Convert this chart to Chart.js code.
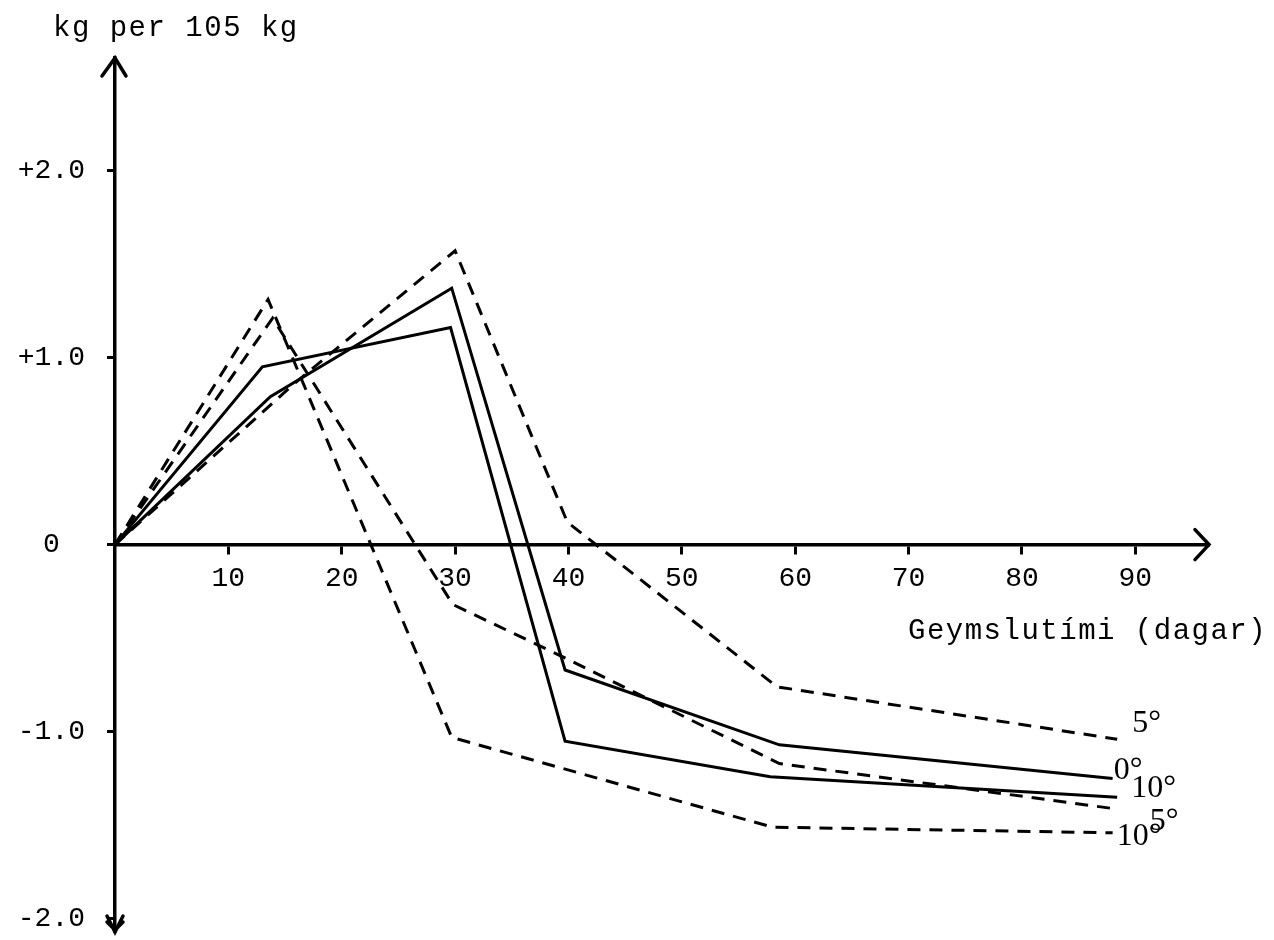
<!DOCTYPE html>
<html>
<head>
<meta charset="utf-8">
<script src="https://cdn.jsdelivr.net/npm/chart.js@4.4.1/dist/chart.umd.min.js"></script>
<style>
    html, body { margin: 0; padding: 0; background: #fff; }
    #wrap { width: 1274px; height: 940px; }
</style>
</head>
<body>
<div id="wrap"><canvas id="storageChart"></canvas></div>
<script>
// storage time (days) and change in kg per 105 kg
const days5Top = [0, 16.0, 30.0, 39.9, 58.4, 88.4];
const kg5Top = [0, 0.87, 1.57, 0.12, -0.76, -1.04];

const days0 = [0, 13.7, 29.7, 39.7, 58.6, 88.0];
const kg0 = [0, 0.79, 1.37, -0.67, -1.07, -1.25];

const days10 = [0, 13.0, 29.6, 39.7, 57.8, 88.4];
const kg10 = [0, 0.95, 1.16, -1.05, -1.24, -1.35];

const days5Low = [0, 13.9, 29.8, 39.5, 58.6, 88.0];
const kg5Low = [0, 1.21, -0.32, -0.60, -1.17, -1.41];

const days10Low = [0, 13.5, 29.7, 58.0, 88.0];
const kg10Low = [0, 1.31, -1.03, -1.51, -1.54];

const endLabels = ["5°", "0°", "10°", "5°", "10°"];
const xTicks = [10, 20, 30, 40, 50, 60, 70, 80, 90];
const yTicks = [-2, -1, 0, 1, 2];
const yTitle = "kg per 105 kg";
const xTitle = "Geymslutími (dagar)";

// label nudges (px) from each line's last point
const labelOffsets = [[15, -7], [1, 0], [14, 0], [37, 22], [4, 12]];

const MONO = "'Liberation Mono', 'DejaVu Sans Mono', monospace";
const SERIF = "'Liberation Serif', 'DejaVu Serif', serif";

function toPoints(xs, ys) {
    return xs.map((x, i) => ({ x: x, y: ys[i] }));
}

function lineSet(label, xs, ys, dashed) {
    return {
        label: label,
        data: toPoints(xs, ys),
        borderColor: '#000',
        borderWidth: 3,
        borderDash: dashed ? [13, 9] : [],
        borderJoinStyle: 'miter',
        pointRadius: 0,
        fill: false,
        tension: 0
    };
}

// axis arrows, titles and the temperature labels at the line ends
const decorations = {
    id: 'decorations',
    afterDraw(chart) {
        const ctx = chart.ctx;
        const xs = chart.scales.x;
        const ys = chart.scales.y;
        const x0 = xs.getPixelForValue(0);
        const y0 = ys.getPixelForValue(0);
        const area = chart.chartArea;

        ctx.save();
        ctx.strokeStyle = '#000';
        ctx.lineWidth = 3.5;
        ctx.lineCap = 'round';
        ctx.lineJoin = 'miter';

        // x arrow
        ctx.beginPath();
        ctx.moveTo(area.right - 14, y0 - 15);
        ctx.lineTo(area.right, y0);
        ctx.lineTo(area.right - 14, y0 + 15);
        ctx.stroke();

        // y arrow top
        ctx.beginPath();
        ctx.moveTo(x0 - 13, area.top + 18);
        ctx.lineTo(x0, area.top);
        ctx.lineTo(x0 + 11, area.top + 18);
        ctx.stroke();

        // y arrow bottom
        ctx.beginPath();
        ctx.moveTo(x0 - 8, area.bottom - 16);
        ctx.lineTo(x0, area.bottom);
        ctx.lineTo(x0 + 8, area.bottom - 16);
        ctx.moveTo(x0 - 8, area.bottom - 10);
        ctx.lineTo(x0, area.bottom - 2);
        ctx.lineTo(x0 + 8, area.bottom - 10);
        ctx.stroke();

        // titles
        ctx.fillStyle = '#000';
        ctx.font = "29px " + MONO;
        ctx.letterSpacing = '1.5px';
        ctx.textBaseline = 'alphabetic';
        ctx.textAlign = 'left';
        ctx.fillText(yTitle, 53, 36);
        ctx.fillText(xTitle, 908, 639);
        ctx.letterSpacing = '0px';

        // end labels
        ctx.font = "32px " + SERIF;
        chart.data.datasets.forEach((ds, i) => {
            const last = ds.data[ds.data.length - 1];
            const px = xs.getPixelForValue(last.x) + labelOffsets[i][0];
            const py = ys.getPixelForValue(last.y) + labelOffsets[i][1];
            ctx.fillText(endLabels[i], px, py);
        });
        ctx.restore();
    }
};

document.addEventListener("DOMContentLoaded", () => {
    const ctx = document.getElementById("storageChart").getContext("2d");
    new Chart(ctx, {
        type: 'line',
        data: {
            datasets: [
                lineSet(endLabels[0], days5Top, kg5Top, true),
                lineSet(endLabels[1], days0, kg0, false),
                lineSet(endLabels[2], days10, kg10, false),
                lineSet(endLabels[3], days5Low, kg5Low, true),
                lineSet(endLabels[4], days10Low, kg10Low, true)
            ]
        },
        options: {
            responsive: true,
            maintainAspectRatio: false,
            devicePixelRatio: 1,
            animation: false,
            layout: { padding: { top: 58, bottom: 8, left: 0, right: 65 } },
            plugins: {
                legend: { display: false },
                tooltip: { enabled: false }
            },
            scales: {
                x: {
                    type: 'linear',
                    min: 0,
                    max: 96.5,
                    position: { y: 0 },
                    afterFit: scale => {
                        scale.height = 0;
                        scale.paddingLeft = 0;
                        scale.paddingRight = 0;
                    },
                    afterBuildTicks: scale => { scale.ticks = xTicks.map(v => ({ value: v })); },
                    border: { display: true, color: '#000', width: 3.5 },
                    grid: { drawOnChartArea: false, drawTicks: true, tickLength: 8, tickWidth: 3, color: '#000' },
                    ticks: {
                        color: '#000',
                        padding: 9,
                        maxRotation: 0,
                        autoSkip: false,
                        font: { family: MONO, size: 28 },
                        callback: v => String(v)
                    }
                },
                y: {
                    type: 'linear',
                    min: -2.07,
                    max: 2.6,
                    position: 'left',
                    afterFit: scale => {
                        scale.width = 115;
                        scale.paddingTop = 0;
                        scale.paddingBottom = 0;
                    },
                    afterBuildTicks: scale => { scale.ticks = yTicks.map(v => ({ value: v })); },
                    border: { display: true, color: '#000', width: 3.5 },
                    grid: { drawOnChartArea: false, drawTicks: true, tickLength: 8, tickWidth: 3, color: '#000' },
                    ticks: {
                        color: '#000',
                        padding: 22,
                        crossAlign: 'center',
                        autoSkip: false,
                        font: { family: MONO, size: 28 },
                        callback: v => v > 0 ? "+" + v.toFixed(1) : (v === 0 ? "0" : v.toFixed(1))
                    }
                }
            }
        },
        plugins: [decorations]
    });
});
</script>
</body>
</html>
